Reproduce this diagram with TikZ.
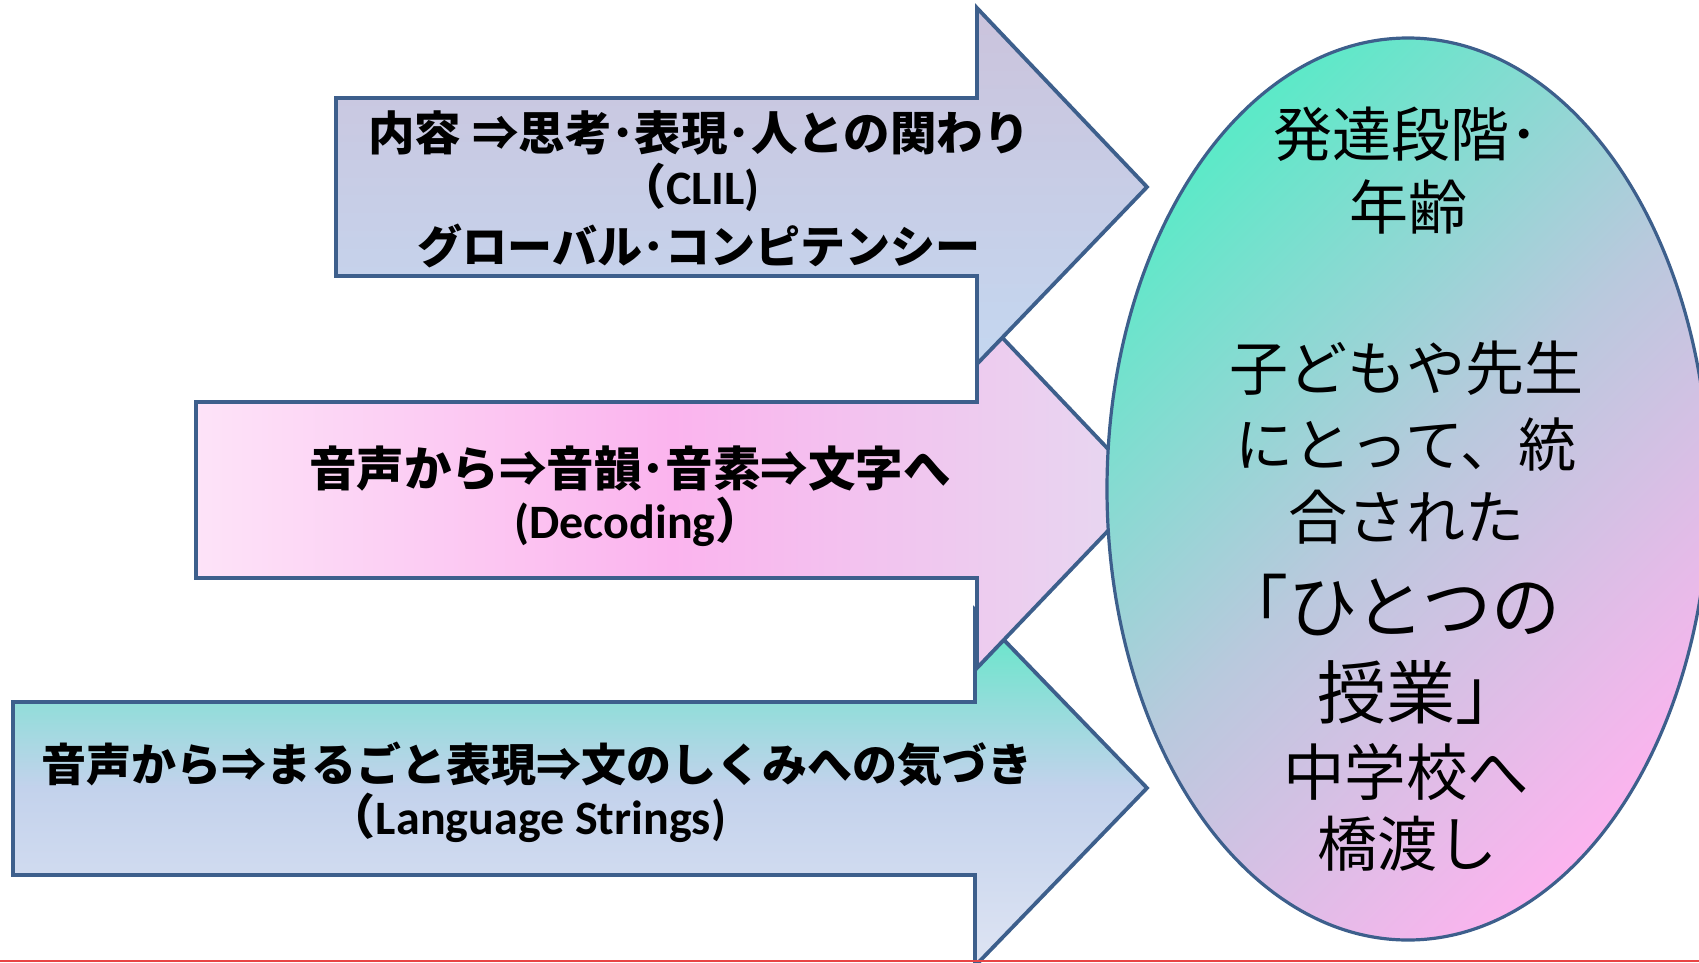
\documentclass[tikz,border=0pt]{standalone}
\usepackage{fontspec}
\newfontfamily\jp{Noto Sans CJK JP}
\newfontfamily\lat{Carlito}
\definecolor{edge}{HTML}{3D5F8C}
\definecolor{aonetop}{HTML}{CBC3DC}
\definecolor{aonebot}{HTML}{C4D7F0}
\definecolor{atwoleft}{HTML}{FDE3F8}
\definecolor{atwomid}{HTML}{FBB4EE}
\definecolor{atworight}{HTML}{E6D8F0}
\definecolor{athreetop}{HTML}{5CE9C6}
\definecolor{athreemid}{HTML}{C3D2EC}
\definecolor{athreebot}{HTML}{DEE4F3}
\definecolor{elgreen}{HTML}{5DE9C8}
\definecolor{elmid}{HTML}{B9C9DD}
\definecolor{elpink}{HTML}{FBB4EE}
\definecolor{redline}{HTML}{E84545}
\begin{document}
\begin{tikzpicture}[x=1pt,y=-1pt,
  arrowshape/.style={draw=edge, line width=3.8pt, line join=miter},
  btext/.style={anchor=base, inner sep=0pt, font=\jp\bfseries\fontsize{46}{50}\selectfont},
  ltext/.style={anchor=base, inner sep=0pt, font=\bfseries\fontsize{48}{50}\selectfont},
  etext/.style={anchor=base, inner sep=0pt, font=\jp\fontsize{59}{60}\selectfont},
]
\useasboundingbox (0,0) rectangle (1699,963);
% arrow 3 (bottom)
\path[arrowshape, top color=athreetop, bottom color=athreebot, middle color=athreemid]
  (13,702) -- (975,702) -- (975,610) -- (1147,788) -- (975,966) -- (975,875) -- (13,875) -- cycle;
% arrow 2 (middle)
\path[arrowshape, left color=atwoleft, right color=atworight, middle color=atwomid]
  (196,402) -- (977,402) -- (977,311) -- (1147,490) -- (977,668) -- (977,578) -- (196,578) -- cycle;
% arrow 1 (top)
\path[arrowshape, top color=aonetop, bottom color=aonebot]
  (336,98) -- (977,98) -- (977,8) -- (1147,187) -- (977,364) -- (977,276) -- (336,276) -- cycle;
% ellipse
\path[draw=edge, line width=3.2pt, top color=elgreen, bottom color=elpink, middle color=elmid, shading angle=45]
  (1408,489) ellipse [x radius=301, y radius=451];
% arrow 1 text
\node[btext, font=\jp\bfseries\fontsize{46.5}{50}\selectfont] (a1l1) at (699,150) {内容 ⇒思考･表現･人との関わり};
\node[ltext] (a1l2) at (689,204) {{\jp （}{\lat CLIL)}};
\node[btext, font=\jp\bfseries\fontsize{45}{50}\selectfont] (a1l3) at (699,263) {グローバル･コンピテンシー};
% arrow 2 text
\node[btext, font=\jp\bfseries\fontsize{47.5}{50}\selectfont] (a2l1) at (630,486) {音声から⇒音韻･音素⇒文字へ};
\node[ltext] (a2l2) at (639,538) {{\lat (Decoding}{\jp ）}};
% arrow 3 text
\node[btext, font=\jp\bfseries\fontsize{45}{50}\selectfont] (a3l1) at (537,781) {音声から⇒まるごと表現⇒文のしくみへの気づき};
\node[ltext] (a3l2) at (527,834) {{\jp （}{\lat Language Strings)}};
% ellipse text
\node[etext, font=\jp\fontsize{59}{60}\selectfont] (e1) at (1406,157) {発達段階･};
\node[etext, font=\jp\fontsize{59}{60}\selectfont] (e2) at (1408,229) {年齢};
\node[etext] (e3) at (1406,390) {子どもや先生};
\node[etext, font=\jp\fontsize{58}{60}\selectfont] (e4) at (1406,466) {にとって、統};
\node[etext] (e5) at (1406,539) {合された};
\node[etext, font=\jp\fontsize{69}{70}\selectfont] (e6) at (1390,632) {「ひとつの};
\node[etext, font=\jp\fontsize{69}{70}\selectfont] (e7) at (1421,718) {授業」};
\node[etext, font=\jp\fontsize{61.5}{62}\selectfont] (e8) at (1406,795) {中学校へ};
\node[etext, font=\jp\fontsize{60}{62}\selectfont] (e9) at (1407,866) {橋渡し};
% bottom red line
\coordinate (rl) at (0,961);
\coordinate (rr) at (1699,961);
\draw[redline, line width=2pt] (rl) -- (rr);
\end{tikzpicture}
\end{document}
